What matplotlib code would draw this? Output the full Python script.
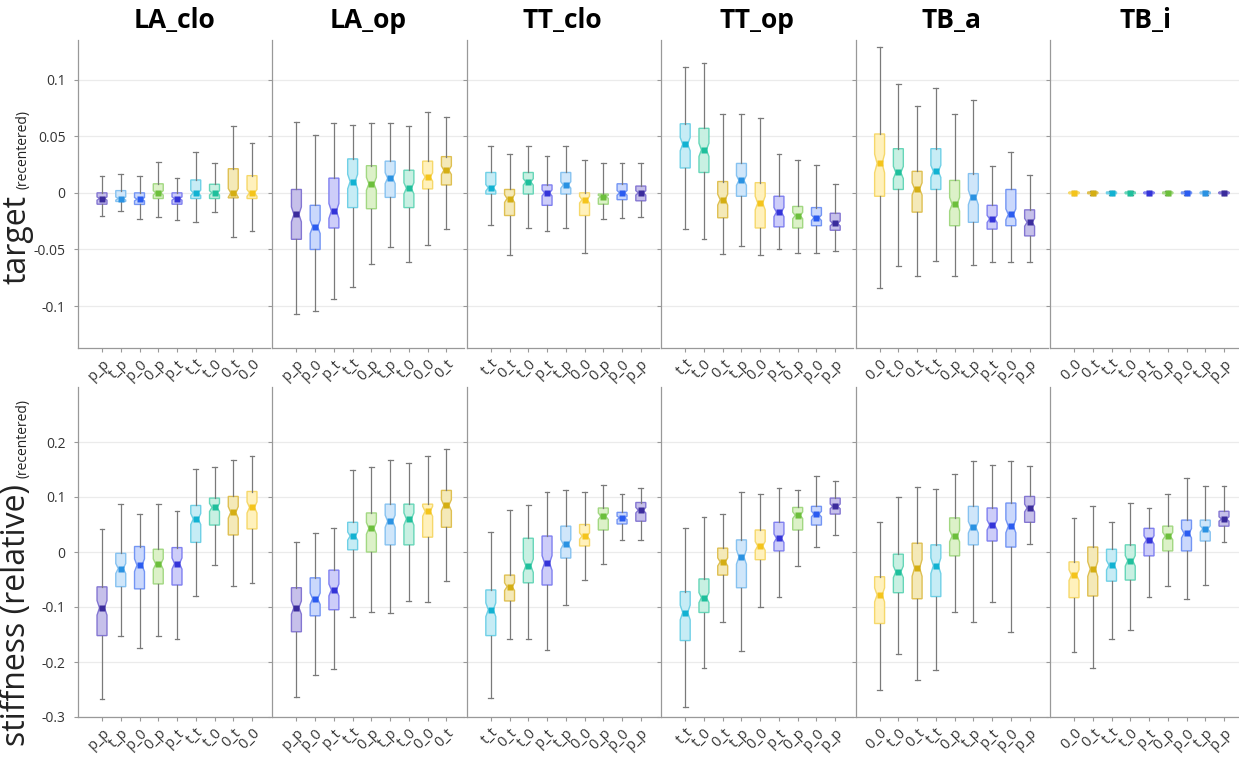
import matplotlib
matplotlib.use("Agg")
import matplotlib.pyplot as plt

plt.rcParams['font.family'] = ['Open Sans', 'DejaVu Sans']

W, H = 1239, 759

panels = ["LA_clo", "LA_op", "TT_clo", "TT_op", "TB_a", "TB_i"]

labels_LA_clo = ["p_p", "t_p", "p_0", "0_p", "p_t", "t_t", "t_0", "0_t", "0_0"]
labels_LA_op = ["p_p", "p_0", "p_t", "t_t", "0_p", "t_p", "t_0", "0_0", "0_t"]
labels_TT_clo = ["t_t", "0_t", "t_0", "p_t", "t_p", "0_0", "0_p", "p_0", "p_p"]
labels_TT_op = ["t_t", "t_0", "0_t", "t_p", "0_0", "p_t", "0_p", "p_0", "p_p"]
labels_TB_a = ["0_0", "t_0", "0_t", "t_t", "0_p", "t_p", "p_t", "p_0", "p_p"]
labels_TB_i = ["0_0", "0_t", "t_t", "t_0", "p_t", "0_p", "p_0", "t_p", "p_p"]

# rows: [whisker low, q1, median, q3, whisker high]
target_LA_clo = [[-0.020, -0.010, -0.005, 0.000, 0.0146],
                 [-0.016, -0.0076, -0.005, 0.002, 0.017],
                 [-0.023, -0.0102, -0.0056, 0.000, 0.0146],
                 [-0.021, -0.005, 0.000, 0.008, 0.027],
                 [-0.024, -0.010, -0.005, 0.000, 0.0135],
                 [-0.026, -0.005, 0.000, 0.0114, 0.036],
                 [-0.0167, -0.005, 0.000, 0.0076, 0.0266],
                 [-0.039, -0.0044, 0.000, 0.0213, 0.0588],
                 [-0.034, -0.005, 0.000, 0.0152, 0.0444]]
target_LA_op = [[-0.107, -0.041, -0.019, 0.003, 0.0625],
                [-0.104, -0.050, -0.030, -0.011, 0.051],
                [-0.094, -0.031, -0.016, 0.013, 0.062],
                [-0.083, -0.013, 0.010, 0.030, 0.060],
                [-0.063, -0.014, 0.008, 0.024, 0.062],
                [-0.048, -0.004, 0.013, 0.028, 0.062],
                [-0.061, -0.013, 0.004, 0.020, 0.059],
                [-0.046, 0.0035, 0.014, 0.028, 0.071],
                [-0.032, 0.007, 0.020, 0.032, 0.067]]
target_TT_clo = [[-0.028, -0.001, 0.0045, 0.018, 0.041],
                 [-0.055, -0.020, -0.005, 0.003, 0.034],
                 [-0.031, -0.001, 0.0097, 0.018, 0.041],
                 [-0.034, -0.011, 0.000, 0.007, 0.033],
                 [-0.031, -0.001, 0.007, 0.018, 0.041],
                 [-0.053, -0.020, -0.006, 0.000, 0.029],
                 [-0.023, -0.010, -0.0035, -0.001, 0.026],
                 [-0.022, -0.006, 0.000, 0.008, 0.026],
                 [-0.021, -0.007, 0.000, 0.006, 0.026]]
target_TT_op = [[-0.032, 0.022, 0.043, 0.061, 0.111],
                [-0.041, 0.018, 0.038, 0.057, 0.115],
                [-0.054, -0.022, -0.006, 0.010, 0.070],
                [-0.047, -0.003, 0.011, 0.026, 0.070],
                [-0.055, -0.031, -0.009, 0.009, 0.066],
                [-0.050, -0.030, -0.017, -0.003, 0.034],
                [-0.053, -0.031, -0.020, -0.012, 0.029],
                [-0.053, -0.029, -0.022, -0.013, 0.025],
                [-0.051, -0.033, -0.027, -0.018, 0.008]]
target_TB_a = [[-0.084, -0.003, 0.026, 0.052, 0.129],
               [-0.065, 0.003, 0.018, 0.039, 0.096],
               [-0.073, -0.017, 0.0035, 0.019, 0.077],
               [-0.060, 0.003, 0.019, 0.039, 0.093],
               [-0.073, -0.029, -0.010, 0.011, 0.070],
               [-0.064, -0.026, -0.004, 0.017, 0.082],
               [-0.061, -0.032, -0.023, -0.011, 0.024],
               [-0.061, -0.029, -0.019, 0.003, 0.036],
               [-0.061, -0.038, -0.026, -0.015, 0.016]]
target_TB_i = [[-0.0015, -0.0008, 0.000, 0.0008, 0.0015]] * 9

stiff_LA_clo = [[-0.268, -0.152, -0.1015, -0.0634, 0.042],
                [-0.153, -0.063, -0.030, -0.0024, 0.0876],
                [-0.174, -0.067, -0.024, 0.010, 0.069],
                [-0.153, -0.058, -0.022, 0.005, 0.087],
                [-0.158, -0.060, -0.021, 0.008, 0.074],
                [-0.080, 0.0175, 0.060, 0.0846, 0.151],
                [-0.023, 0.049, 0.081, 0.098, 0.154],
                [-0.062, 0.031, 0.072, 0.101, 0.168],
                [-0.056, 0.042, 0.081, 0.110, 0.175]]
stiff_LA_op = [[-0.263, -0.145, -0.101, -0.065, 0.018],
               [-0.223, -0.116, -0.085, -0.047, 0.034],
               [-0.212, -0.105, -0.069, -0.033, 0.043],
               [-0.118, 0.004, 0.029, 0.054, 0.149],
               [-0.109, 0.000, 0.043, 0.071, 0.154],
               [-0.110, 0.013, 0.056, 0.087, 0.168],
               [-0.089, 0.013, 0.060, 0.087, 0.161],
               [-0.090, 0.027, 0.074, 0.087, 0.174],
               [-0.053, 0.045, 0.085, 0.112, 0.187]]
stiff_TT_clo = [[-0.265, -0.152, -0.105, -0.069, 0.036],
                [-0.159, -0.089, -0.063, -0.042, 0.076],
                [-0.159, -0.056, -0.025, 0.025, 0.085],
                [-0.178, -0.060, -0.020, 0.029, 0.109],
                [-0.096, -0.011, 0.014, 0.047, 0.112],
                [-0.050, 0.011, 0.029, 0.050, 0.109],
                [-0.021, 0.040, 0.065, 0.080, 0.121],
                [0.022, 0.051, 0.062, 0.072, 0.105],
                [0.022, 0.056, 0.076, 0.090, 0.116]]
stiff_TT_op = [[-0.281, -0.161, -0.110, -0.072, 0.043],
               [-0.210, -0.110, -0.083, -0.049, 0.063],
               [-0.127, -0.042, -0.018, 0.007, 0.069],
               [-0.180, -0.065, -0.009, 0.022, 0.110],
               [-0.100, -0.014, 0.011, 0.040, 0.105],
               [-0.082, 0.002, 0.025, 0.054, 0.116],
               [-0.025, 0.040, 0.067, 0.081, 0.112],
               [0.009, 0.049, 0.069, 0.083, 0.139],
               [0.031, 0.069, 0.083, 0.098, 0.130]]
stiff_TB_a = [[-0.250, -0.130, -0.078, -0.045, 0.054],
              [-0.185, -0.074, -0.036, -0.004, 0.100],
              [-0.232, -0.085, -0.029, 0.016, 0.118],
              [-0.214, -0.081, -0.025, 0.013, 0.114],
              [-0.109, -0.007, 0.029, 0.062, 0.141],
              [-0.127, 0.013, 0.045, 0.083, 0.165],
              [-0.090, 0.020, 0.049, 0.080, 0.158],
              [-0.145, 0.009, 0.047, 0.089, 0.165],
              [0.014, 0.054, 0.080, 0.101, 0.156]]
stiff_TB_i = [[-0.181, -0.083, -0.042, -0.018, 0.062],
              [-0.210, -0.080, -0.031, 0.009, 0.083],
              [-0.159, -0.053, -0.024, 0.005, 0.054],
              [-0.141, -0.051, -0.016, 0.013, 0.089],
              [-0.082, -0.007, 0.022, 0.043, 0.080],
              [-0.062, 0.002, 0.029, 0.047, 0.105],
              [-0.085, 0.002, 0.034, 0.058, 0.134],
              [-0.060, 0.020, 0.042, 0.058, 0.120],
              [0.018, 0.047, 0.060, 0.074, 0.120]]

# label -> (face, edge, median marker)
colors = {
    "p_p": ("#c6c0ea", "#8476d2", "#3b2c9c"),
    "p_t": ("#cdcdf9", "#7f7ff0", "#3434d8"),
    "p_0": ("#cad8fc", "#7395f4", "#2b5cf0"),
    "t_p": ("#cfe6fa", "#86c2f0", "#2a92e2"),
    "t_t": ("#c6ecf5", "#6fd0e6", "#12b2d2"),
    "t_0": ("#c8f0e2", "#66d6b8", "#1fbf9c"),
    "0_p": ("#dcf1c8", "#a2d882", "#6cbf3c"),
    "0_t": ("#f4e9b8", "#dfc052", "#d4ae14"),
    "0_0": ("#fff1bc", "#f6d86a", "#f4c41c"),
}

labels = [labels_LA_clo, labels_LA_op, labels_TT_clo, labels_TT_op, labels_TB_a, labels_TB_i]
target = [target_LA_clo, target_LA_op, target_TT_clo, target_TT_op, target_TB_a, target_TB_i]
stiff = [stiff_LA_clo, stiff_LA_op, stiff_TT_clo, stiff_TT_op, stiff_TB_a, stiff_TB_i]

target_ticks = [0.1, 0.05, 0, -0.05, -0.1]
target_ticklabels = ["0.1", "0.05", "0", "-0.05", "-0.1"]
stiff_ticks = [0.2, 0.1, 0, -0.1, -0.2, -0.3]
stiff_ticklabels = ["0.2", "0.1", "0", "-0.1", "-0.2", "-0.3"]

fig = plt.figure(figsize=(W / 100, H / 100), dpi=100)

rows = [
    dict(data=target, ylim=(-0.137, 0.135), ticks=target_ticks, tl=target_ticklabels,
         top=40, bottom=348),
    dict(data=stiff, ylim=(-0.3, 0.3), ticks=stiff_ticks, tl=stiff_ticklabels,
         top=387, bottom=717),
]

pos = list(range(1, 10))
for r, row in enumerate(rows):
    for c in range(6):
        left = 78 + c * 194.4
        ax = fig.add_axes([left / W, 1 - row["bottom"] / H, 192 / W,
                           (row["bottom"] - row["top"]) / H])
        stats = []
        for v in row["data"][c]:
            wlo, q1, med, q3, whi = v
            ci = 0.15 * (q3 - q1)
            stats.append(dict(med=med, q1=q1, q3=q3, whislo=wlo, whishi=whi,
                              cilo=max(q1, med - ci), cihi=min(q3, med + ci), fliers=[]))
        bp = ax.bxp(stats, positions=pos, widths=0.53, shownotches=True, patch_artist=True,
                    showfliers=False, capwidths=0.26,
                    whiskerprops=dict(color="#7a7a7a", lw=0.9),
                    capprops=dict(color="#7a7a7a", lw=0.9),
                    medianprops=dict(visible=False))
        for patch, lab in zip(bp["boxes"], labels[c]):
            f, e, m = colors[lab]
            patch.set_facecolor(f)
            patch.set_edgecolor(e)
            patch.set_linewidth(1.0)
        for p, v, lab in zip(pos, row["data"][c], labels[c]):
            ax.plot([p], [v[2]], marker="s", ms=4.8, color=colors[lab][2], mec="none", zorder=4)
        ax.set_xlim(-0.28, 9.96)
        ax.set_ylim(*row["ylim"])
        ax.set_yticks(row["ticks"])
        if c == 0:
            ax.set_yticklabels(row["tl"], fontsize=10, color="#333333")
        else:
            ax.set_yticklabels([])
        ax.set_xticks(pos)
        ax.set_xticklabels(labels[c], rotation=45, ha="right", rotation_mode="anchor",
                           fontsize=10.5, color="#333333")
        ax.tick_params(axis="both", length=3, width=0.8, color="#999999", pad=3)
        ax.tick_params(axis="y", pad=6)
        for s in ["top", "right"]:
            ax.spines[s].set_visible(False)
        for s in ["left", "bottom"]:
            ax.spines[s].set_color("#999999")
            ax.spines[s].set_linewidth(0.9)
        ax.yaxis.grid(True, color="#ebebeb", lw=0.9)
        ax.set_axisbelow(True)
        if r == 0:
            fig.text((left + 96) / W, 1 - 20 / H, panels[c], ha="center", va="center",
                     fontsize=19, fontweight="bold")

# y labels: big part + small "(recentered)"
fig.canvas.draw()
renderer = fig.canvas.get_renderer()
for big, start_y in [("target", 284), ("stiffness (relative)", 746)]:
    t = fig.text(25 / W, 1 - start_y / H, big, rotation=90, rotation_mode="anchor",
                 ha="left", va="baseline", fontsize=23, color="#222222")
    bb = t.get_window_extent(renderer)
    fig.text(26 / W, (bb.y1 + 6) / H, "(recentered)", rotation=90, rotation_mode="anchor",
             ha="left", va="baseline", fontsize=10, color="#222222")

fig.savefig("out.png", dpi=100)
